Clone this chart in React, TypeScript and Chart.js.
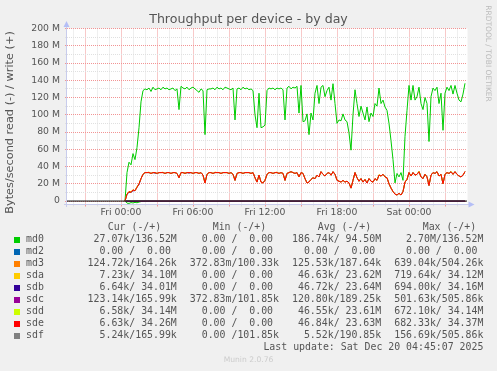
import { useEffect, useRef } from 'react';
import { Chart, registerables } from 'chart.js';

Chart.register(...registerables);

// ---- time base (hours relative to Fri 00:00), 10-minute samples ----
const SAMPLE_START_H = 1 / 3;
const SAMPLE_STEP_H = 1 / 6;
const X_MIN_H = -4.5;
const X_MAX_H = 28 + 5 / 6;
const Y_MIN_M = -4;
const Y_MAX_M = 200;

const xLabelHours = [0, 6, 12, 18, 24];
const xTickLabels = ['Fri 00:00', 'Fri 06:00', 'Fri 12:00', 'Fri 18:00', 'Sat 00:00'];
const xGridHours = Array.from({ length: 33 }, (_, i) => i - 4);
const yGridValues = Array.from({ length: 21 }, (_, i) => i * 10);
const yTickValues = [0, 20, 40, 60, 80, 100, 120, 140, 160, 180, 200];
const yTickLabels = ['0', '20 M', '40 M', '60 M', '80 M', '100 M', '120 M', '140 M', '160 M', '180 M', '200 M'];

// ---- series values (MB/s) ----
const md0Write = [0,
  33, 45, 42, 55, 48, 62, 85, 115, 128, 130,
  129, 131, 127, 132, 129, 130, 131, 129, 132, 130,
  131, 129, 130, 131, 128, 130, 106, 133, 131, 130,
  132, 129, 131, 132, 130, 128, 126, 130, 128, 77,
  129, 130, 130, 131, 129, 132, 130, 131, 129, 132,
  131, 130, 129, 131, 94, 130, 131, 129, 132, 130,
  131, 129, 130, 128, 100, 85, 125, 85, 86, 88,
  128, 131, 130, 131, 129, 131, 130, 131, 129, 94,
  131, 133, 130, 132, 131, 133, 102, 134, 92, 93,
  101, 77, 102, 94, 125, 134, 113, 132, 134, 121,
  128, 132, 117, 136, 113, 90, 94, 93, 101, 94,
  92, 79, 59, 100, 129, 113, 98, 110, 102, 94,
  109, 92, 102, 98, 113, 110, 131, 113, 117, 109,
  105, 90, 70, 48, 21, 32, 28, 33, 24, 75,
  105, 134, 117, 134, 117, 121, 132, 113, 106, 120,
  113, 69, 121, 131, 128, 132, 113, 125, 82, 125,
  132, 128, 134, 124, 134, 125, 117, 115, 124, 136.5];

const md0Read = [0, -2.4, -2.7, -1.8, -2.2, -1.5, -2.0, -1.2, -0.6, -0.3, -0.2, -0.1, -0.1];

const sdeWrite = [0,
  8, 11, 10, 13, 12, 16, 20, 26, 31, 33,
  33, 33, 32, 33, 33, 32, 33, 33, 33, 32,
  33, 33, 32, 33, 33, 32, 27, 33, 33, 32,
  33, 33, 33, 32, 33, 33, 32, 33, 30, 21,
  31, 33, 33, 32, 33, 33, 33, 32, 33, 33,
  33, 32, 33, 31, 24, 32, 33, 33, 32, 33,
  33, 33, 32, 33, 27, 22, 30, 22, 21, 24,
  31, 33, 33, 32, 33, 33, 32, 33, 32, 24,
  32, 33, 34, 33, 32, 33, 28, 33, 32, 26,
  21, 22, 25, 27, 26, 30, 28, 34, 31, 29,
  32, 33, 30, 34, 31, 24, 23, 22, 24, 22,
  23, 21, 15, 24, 33, 27, 23, 26, 22, 25,
  21, 26, 23, 22, 26, 24, 30, 29, 31, 28,
  27, 20, 15, 11, 8, 7, 9, 7, 11, 22,
  25, 33, 29, 33, 30, 31, 34, 28, 26, 31,
  28, 18, 30, 33, 32, 34, 29, 31, 20, 31,
  33, 32, 34, 31, 34, 31, 29, 28, 30, 34.3];

const sdaWrite = [0,
  8, 11, 11, 13, 12, 17, 20, 26, 31, 33,
  33, 33.6, 32, 33, 33, 32, 33, 33, 33.5, 32,
  33, 33, 32, 33, 33, 32, 27, 33, 33, 32.6,
  33, 33, 33, 32, 33, 33, 32, 33, 30, 21,
  31, 33, 33, 32, 33.6, 33, 33, 32, 33, 33,
  33, 32, 33, 31, 24, 32, 33, 33, 32, 33,
  33, 33, 32, 33, 27, 22, 30, 22, 21, 24,
  31, 33, 33, 32, 33, 33.6, 32, 33, 32, 24,
  32, 33, 34, 33, 32, 33, 28, 33, 32, 26,
  21, 22, 25, 27, 26, 30, 28, 34, 31, 29,
  32, 33, 30, 34, 31, 24.8, 23, 22, 24, 22,
  23, 21, 15, 24, 33, 27, 23, 26, 22, 25,
  21, 26, 23, 22, 26, 24, 30.8, 29, 31, 28,
  27, 20, 15, 11, 8, 7, 9, 7, 11, 22,
  25, 33, 29, 33, 30, 31, 34, 28, 26, 31,
  28, 18.8, 30, 33, 32, 34, 29, 31, 20, 31,
  33, 32, 34, 31, 34, 31, 29, 28, 30, 34.1];

const sdbWrite = [0,
  8, 10, 10, 12, 12, 16, 19, 26, 31, 33,
  33, 33, 32, 33, 32.4, 32, 33, 33, 33, 32,
  33, 33, 32, 33, 33, 32, 27, 33, 33, 32,
  33, 32.4, 33, 32, 33, 33, 32, 33, 30, 21,
  31, 33, 33, 32, 33, 33, 33, 32, 33, 33,
  33, 32, 33, 31, 24, 32, 33, 33, 32, 33,
  33, 33, 32, 33, 27, 22, 30, 22, 21, 24,
  31, 33, 33, 32, 33, 33, 32, 33, 32, 24,
  32, 33, 34, 33, 32, 33, 28, 33, 32, 26,
  21, 22, 25, 27, 26, 30, 28, 34, 31, 29,
  32, 33, 30, 34, 31, 24, 23, 22, 24, 22,
  23, 21, 15, 24, 33, 27, 23, 26, 22, 25,
  21, 26, 23, 22, 26, 24, 30, 29, 31, 28,
  27, 20, 15, 11, 8, 7, 9, 7, 11, 22,
  25, 33, 29, 33, 30, 31, 34, 28, 26, 31,
  28, 18, 30, 33, 32, 34, 29, 31, 20, 31,
  33, 32, 34, 31, 34, 31, 29, 28, 30, 34.0];

const sddWrite = [0,
  8, 11, 10, 13, 12, 16, 20, 26, 31, 33,
  33, 33, 32, 33, 33, 32, 33, 33, 33, 32,
  33, 33, 32, 33, 33, 32, 27, 33, 33, 32,
  33, 33, 33, 32, 33, 33, 32, 33, 30, 21,
  31, 33, 33, 32, 33, 33, 33, 32, 33, 33,
  33, 32, 33, 31, 24, 32, 33, 33, 32, 33,
  33, 33, 32, 33, 27, 22, 30, 22, 21, 24,
  31, 33, 33, 32, 33, 33, 32, 33, 32, 24,
  32, 33, 34, 33, 32, 33, 28, 33, 32, 26,
  21, 22, 25, 27, 26, 30, 28, 34, 31, 29,
  32, 33, 30, 34, 31, 24, 23, 22, 24, 22,
  23, 21, 15, 24, 33, 27, 23, 26, 22, 25,
  21.6, 26, 23, 22, 26, 24, 30, 29, 31, 28,
  27, 20, 15, 11, 8, 7, 9, 7, 11, 22,
  25, 33, 29, 33, 30, 31, 34.6, 28, 26, 31,
  28, 18, 30, 33, 32, 34, 29, 31, 20, 31,
  33, 32, 34.5, 31, 34, 31, 29, 28, 30, 34.1];

// small devices, coarse samples
const smallHours = [0.33, 0.5, 1, 2, 4, 6, 8, 10, 12, 14, 16, 18, 20, 22, 24, 26, 28, 28.67];
const md2Write = [0, 0, 0, 0, 0, 0, 0, 0, 0, 0, 0, 0, 0, 0, 0, 0, 0, 0];
const md3Write = [0, 0.3, 0.5, 0.2, 0.15, 0.2, 0.18, 0.22, 0.17, 0.2, 0.16, 0.21, 0.19, 0.18, 0.2, 0.17, 0.19, 0.16];
const sdcWrite = [0, 0.3, 0.5, 0.2, 0.17, 0.19, 0.18, 0.2, 0.17, 0.22, 0.16, 0.2, 0.19, 0.18, 0.21, 0.17, 0.19, 0.17];
const sdfWrite = [0, 0.3, 0.5, 0.21, 0.18, 0.19, 0.19, 0.2, 0.18, 0.21, 0.17, 0.2, 0.19, 0.2, 0.2, 0.18, 0.19, 0.17];
const md3Read = [0, -0.4, -0.6, -0.15, -0.1, -0.12, -0.1, -0.13, -0.1, -0.12, -0.11, -0.13, -0.12, -0.1, -0.12, -0.11, -0.12, -0.12];
const sdcRead = [0, -0.4, -0.5, -0.15, -0.1, -0.12, -0.1, -0.12, -0.1, -0.12, -0.11, -0.12, -0.12, -0.1, -0.12, -0.11, -0.12, -0.12];

// ---- legend ----
const legendNames = ['md0', 'md2', 'md3', 'sda', 'sdb', 'sdc', 'sdd', 'sde', 'sdf'];
const legendColors = ['#00CC00', '#0066B3', '#FF8000', '#FFCC00', '#330099', '#990099', '#CCFF00', '#FF0000', '#808080'];
const legendHeaders = ['Cur (-/+)', 'Min (-/+)', 'Avg (-/+)', 'Max (-/+)'];
const curCol = [' 27.07k/136.52M', '  0.00 /  0.00 ', '124.72k/164.26k', '  7.23k/ 34.10M', '  6.64k/ 34.01M', '123.14k/165.99k', '  6.58k/ 34.14M', '  6.63k/ 34.26M', '  5.24k/165.99k'];
const minCol = ['  0.00 /  0.00 ', '  0.00 /  0.00 ', '372.83m/100.33k', '  0.00 /  0.00 ', '  0.00 /  0.00 ', '372.83m/101.85k', '  0.00 /  0.00 ', '  0.00 /  0.00 ', '  0.00 /101.85k'];
const avgCol = ['186.74k/ 94.50M', '  0.00 /  0.00 ', '125.53k/187.64k', ' 46.63k/ 23.62M', ' 46.72k/ 23.64M', '120.80k/189.25k', ' 46.55k/ 23.61M', ' 46.84k/ 23.63M', '  5.52k/190.85k'];
const maxCol = ['  2.70M/136.52M', '  0.00 /  0.00 ', '639.04k/504.26k', '719.64k/ 34.12M', '694.00k/ 34.16M', '501.63k/505.86k', '672.10k/ 34.14M', '682.33k/ 34.37M', '156.69k/505.86k'];
const titleText = 'Throughput per device - by day';
const yAxisTitle = 'Bytes/second read (-) / write (+)';
const watermark = 'RRDTOOL / TOBI OETIKER';
const lastUpdate = 'Last update: Sat Dec 20 04:45:07 2025';
const versionText = 'Munin 2.0.76';

const TEXT = '#555555';
const MAJOR = '#F29494';
const MINOR = '#E0E0E0';
const AXIS = '#C8CCEC';
const ARROW = '#B4BEF6';

function detailed(values: number[]) {
  return values.map((v, i) => ({ x: SAMPLE_START_H + i * SAMPLE_STEP_H, y: v }));
}
function coarse(values: number[]) {
  return values.map((v, i) => ({ x: smallHours[i], y: v }));
}
function ds(label: string, color: string, data: { x: number; y: number }[], order: number) {
  return {
    label, data, order,
    borderColor: color, backgroundColor: color,
    borderWidth: 1, pointRadius: 0, fill: false, tension: 0,
  };
}

const muninPlugin = {
  id: 'munin',
  beforeDraw(chart: any) {
    const { ctx, chartArea: a, width, height } = chart;
    ctx.save();
    ctx.fillStyle = '#F0F0F0';
    ctx.fillRect(0, 0, width, height);
    ctx.fillStyle = '#FFFFFF';
    ctx.fillRect(a.left, a.top, a.right - a.left + 0.5, a.bottom - a.top);
    ctx.restore();
  },
  afterDraw(chart: any) {
    const { ctx, chartArea: a } = chart;
    ctx.save();
    // axes
    ctx.strokeStyle = AXIS;
    ctx.lineWidth = 1;
    ctx.beginPath();
    ctx.moveTo(a.left - 0.5, a.bottom + 2.5);
    ctx.lineTo(a.left - 0.5, a.top - 5);
    ctx.moveTo(a.left - 3, a.bottom);
    ctx.lineTo(a.right + 4, a.bottom);
    ctx.stroke();
    ctx.fillStyle = ARROW;
    ctx.beginPath();
    ctx.moveTo(a.left - 0.5, a.top - 7.5);
    ctx.lineTo(a.left - 3.5, a.top - 1.5);
    ctx.lineTo(a.left + 2.5, a.top - 1.5);
    ctx.closePath();
    ctx.fill();
    ctx.beginPath();
    ctx.moveTo(a.right + 7.5, a.bottom);
    ctx.lineTo(a.right + 1.5, a.bottom - 3);
    ctx.lineTo(a.right + 1.5, a.bottom + 3);
    ctx.closePath();
    ctx.fill();

    // title
    ctx.fillStyle = TEXT;
    ctx.textBaseline = 'middle';
    ctx.textAlign = 'center';
    ctx.font = '12.6px "DejaVu Sans"';
    ctx.fillText(titleText, 248.5, 19.5);

    // y axis title
    ctx.save();
    ctx.translate(10.5, 122.5);
    ctx.rotate(-Math.PI / 2);
    ctx.font = '11.3px "DejaVu Sans"';
    ctx.fillText(yAxisTitle, 0, 0);
    ctx.restore();

    // watermark
    ctx.save();
    ctx.translate(487.5, 53.5);
    ctx.rotate(Math.PI / 2);
    ctx.fillStyle = '#BBBBBB';
    ctx.font = '7.5px "DejaVu Sans"';
    ctx.fillText(watermark, 0, 0);
    ctx.restore();

    // legend
    ctx.font = '9.9px "DejaVu Sans Mono"';
    ctx.fillStyle = TEXT;
    ctx.textAlign = 'left';
    const headerX = [107.7, 212.7, 317.7, 422.7];
    legendHeaders.forEach((h, i) => ctx.fillText(h, headerX[i], 227.8));
    const colRight = [176.8, 279, 381.2, 483.4];
    const cols = [curCol, minCol, avgCol, maxCol];
    legendNames.forEach((name, r) => {
      const y = 239.5 + r * 12.05;
      ctx.fillStyle = legendColors[r];
      ctx.fillRect(14, Math.round(y) - 3, 6, 6);
      ctx.fillStyle = TEXT;
      ctx.textAlign = 'left';
      ctx.fillText(name, 26, y);
      ctx.textAlign = 'right';
      cols.forEach((c, ci) => ctx.fillText(c[r], colRight[ci], y));
    });
    ctx.textAlign = 'right';
    ctx.fillText(lastUpdate, 483.4, 347.8);

    ctx.textAlign = 'center';
    ctx.fillStyle = '#CCCCCC';
    ctx.font = '7.6px "DejaVu Sans"';
    ctx.fillText(versionText, 248.5, 360.5);
    ctx.restore();
  },
};

export default function App() {
  const ref = useRef<HTMLCanvasElement | null>(null);

  useEffect(() => {
    document.body.style.margin = '0';
    const canvas = ref.current;
    if (!canvas) return;

    const zeroLine = [{ x: X_MIN_H, y: 0 }, { x: X_MAX_H, y: 0 }];

    const datasets = [
      ds('zero', '#000000', zeroLine, 0),
      ds('sdf', legendColors[8], coarse(sdfWrite), 1),
      ds('sde', legendColors[7], detailed(sdeWrite), 2),
      ds('sdd', legendColors[6], detailed(sddWrite), 3),
      ds('sdc', legendColors[5], coarse(sdcWrite), 4),
      ds('sdc read', legendColors[5], coarse(sdcRead), 4),
      ds('sdb', legendColors[4], detailed(sdbWrite), 5),
      ds('sda', legendColors[3], detailed(sdaWrite), 6),
      ds('md3', legendColors[2], coarse(md3Write), 7),
      ds('md3 read', legendColors[2], coarse(md3Read), 7),
      ds('md2', legendColors[1], coarse(md2Write), 8),
      ds('md0', legendColors[0], detailed(md0Write), 9),
      ds('md0 read', legendColors[0], detailed(md0Read), 9),
    ];

    const chart = new Chart(canvas, {
      type: 'line',
      data: { datasets: datasets as any },
      options: {
        animation: false,
        responsive: false,
        events: [],
        layout: { padding: { left: 0, right: 30, top: 28.5, bottom: 0 } },
        plugins: {
          legend: { display: false },
          title: { display: false },
          tooltip: { enabled: false },
        },
        scales: {
          x: {
            type: 'linear',
            min: X_MIN_H,
            max: X_MAX_H,
            afterBuildTicks: (s: any) => { s.ticks = xGridHours.map((v) => ({ value: v })); },
            afterFit: (s: any) => { s.height = 166.5; },
            border: { display: false, dash: [1, 1] },
            grid: {
              color: (c: any) => (c.tick && c.tick.value % 3 === 0 ? MAJOR : MINOR),
              tickColor: (c: any) => (c.tick && c.tick.value % 3 === 0 ? MAJOR : MINOR),
              lineWidth: 1,
              tickLength: 2,
            },
            ticks: {
              autoSkip: false,
              maxRotation: 0,
              minRotation: 0,
              padding: 1,
              color: TEXT,
              font: { family: 'DejaVu Sans', size: 9.3 },
              callback: (v: any) => {
                const idx = xLabelHours.indexOf(Number(v));
                return idx >= 0 ? xTickLabels[idx] : '';
              },
            },
          },
          y: {
            type: 'linear',
            min: Y_MIN_M,
            max: Y_MAX_M,
            afterBuildTicks: (s: any) => { s.ticks = yGridValues.map((v) => ({ value: v })); },
            afterFit: (s: any) => { s.width = 67; },
            border: { display: false, dash: [1, 1] },
            grid: {
              color: (c: any) => (c.tick && c.tick.value % 20 === 0 ? MAJOR : MINOR),
              tickColor: (c: any) => (c.tick && c.tick.value % 20 === 0 ? MAJOR : MINOR),
              lineWidth: 1,
              tickLength: 2,
            },
            ticks: {
              autoSkip: false,
              padding: 5,
              color: TEXT,
              font: { family: 'DejaVu Sans', size: 9.3 },
              callback: (v: any) => {
                const idx = yTickValues.indexOf(Number(v));
                return idx >= 0 ? yTickLabels[idx] : '';
              },
            },
          },
        },
      },
      plugins: [muninPlugin],
    });

    return () => chart.destroy();
  }, []);

  return (
    <div>
      <canvas
        ref={ref}
        width={497}
        height={371}
        style={{ display: 'block', position: 'fixed', left: 0, top: 0 }}
      />
    </div>
  );
}
